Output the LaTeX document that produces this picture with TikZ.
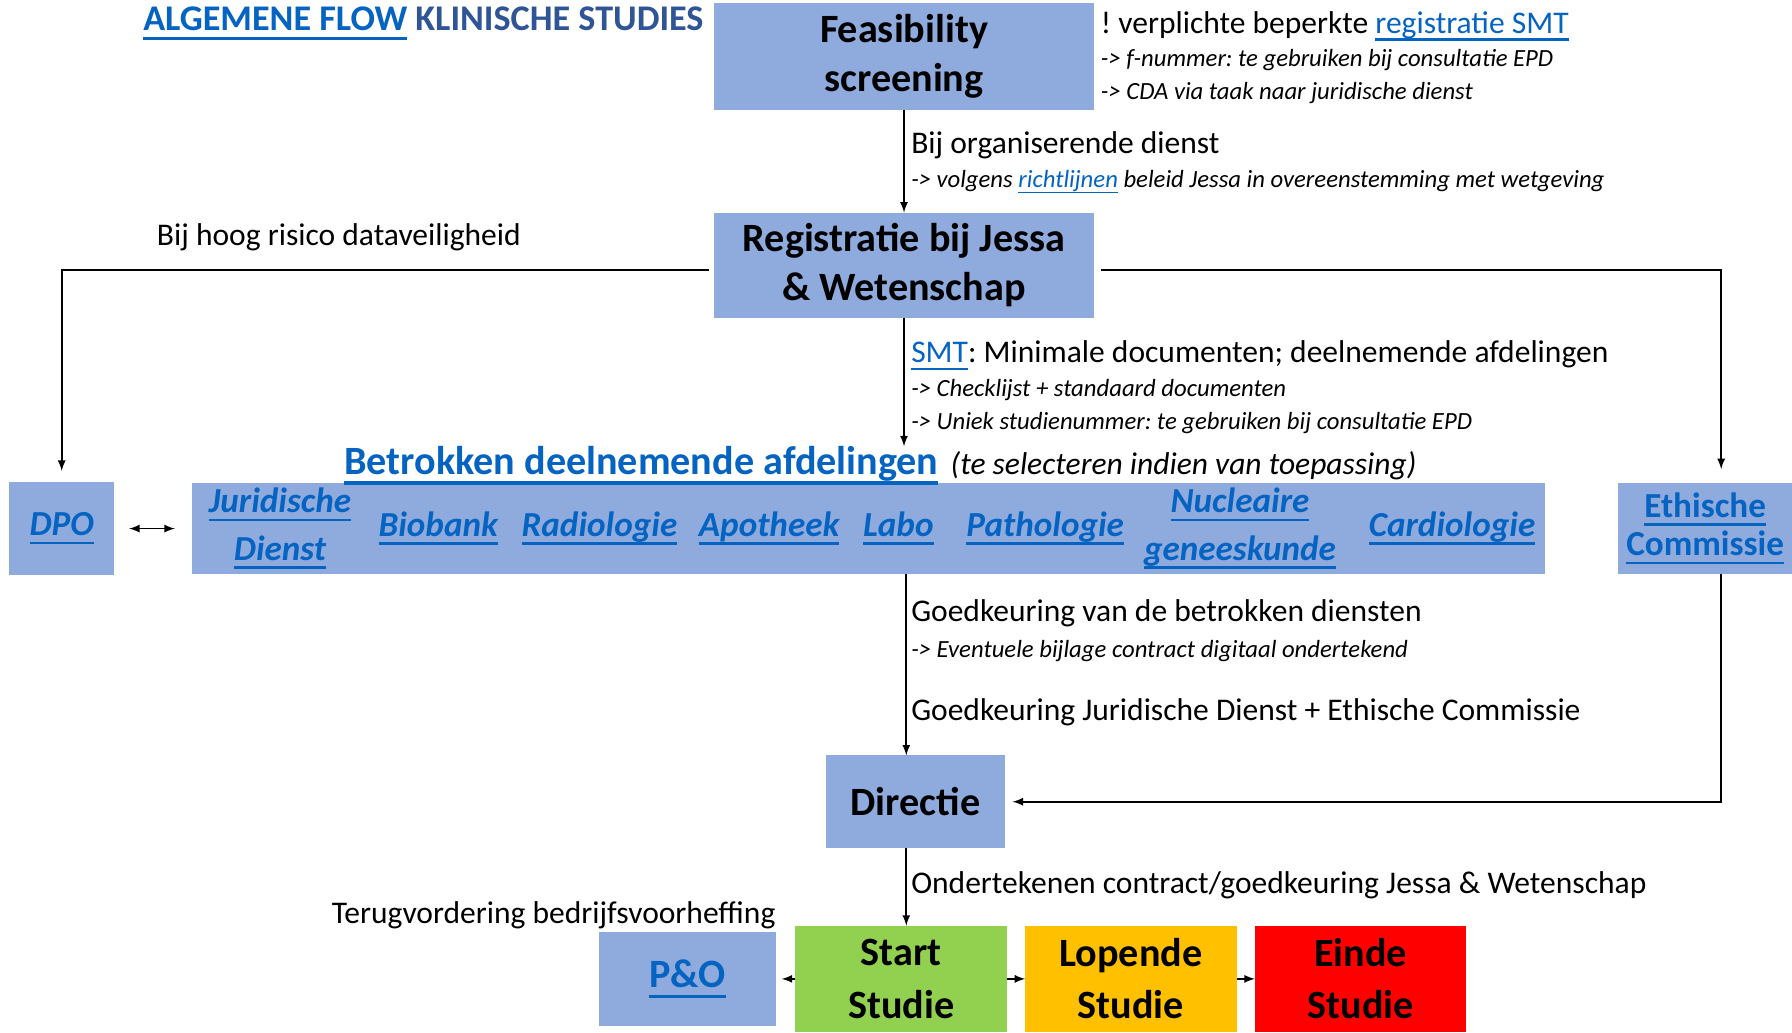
\documentclass[tikz,border=0pt]{standalone}
\usepackage{fontspec}
\setmainfont{Carlito}
\usetikzlibrary{positioning,calc}
\definecolor{boxblue}{HTML}{8FAADC}
\definecolor{linkblue}{HTML}{0563C1}
\definecolor{headblue}{HTML}{2F5597}
\definecolor{startgreen}{HTML}{92D050}
\definecolor{lopendeorange}{HTML}{FFC000}
\definecolor{eindered}{HTML}{FF0000}
\newsavebox\lnkbox
\newcommand\lnk[1]{\sbox\lnkbox{#1}\rlap{\rule[-0.24em]{\wd\lnkbox}{0.075em}}\usebox\lnkbox}
\frenchspacing

\begin{document}
\begin{tikzpicture}[box/.style={rectangle, fill=boxblue, align=center, inner sep=0pt, outer sep=0pt, font=\fontsize{20}{24.4}\selectfont\bfseries},
dept/.style={inner sep=0pt, align=center, text=linkblue, font=\fontsize{17.5}{23.8}\selectfont\bfseries\itshape},
note/.style={inner sep=0pt, font=\fontsize{15.7}{18.8}\selectfont},
subnote/.style={inner sep=0pt, font=\fontsize{12.3}{14.8}\selectfont\itshape},
flow/.style={-latex, line width=0.8pt}]

\useasboundingbox (0,0) rectangle (31.36,-18.06);

% BOXES

\node[box, minimum width=6.64cm, minimum height=1.86cm] (feas) at (15.82,-0.99) {Feasibility\\screening};

\node[box, minimum width=6.66cm, minimum height=1.84cm, below=1.8cm of feas] (reg) {Registratie bij Jessa\\\& Wetenschap};

\node[box, dept, minimum width=1.84cm, minimum height=1.62cm] (dpo) at (1.08,-9.25) {\lnk{DPO}};

\node[box, minimum width=23.68cm, minimum height=1.6cm, right=1.36cm of dpo] (depts) {};

\node[box, dept, font=\fontsize{17.5}{19}\selectfont\bfseries, minimum width=3.04cm, minimum height=1.6cm, right=1.28cm of depts] (ethic) {\lnk{Ethische}\\\lnk{Commissie}};

\node[dept] (juridisch) at ([xshift=1.54cm]depts.west) {\lnk{Juridische}\\\lnk{Dienst}};
\node[dept, anchor=base] (biobank) at ([xshift=4.31cm, yshift=-0.14cm]depts.west) {\lnk{Biobank}};
\node[dept, anchor=base] (radiologie) at ([xshift=7.13cm, yshift=-0.14cm]depts.west) {\lnk{Radiologie}};
\node[dept, anchor=base] (apotheek) at ([xshift=10.10cm, yshift=-0.14cm]depts.west) {\lnk{Apotheek}};
\node[dept, anchor=base] (labo) at ([xshift=12.36cm, yshift=-0.14cm]depts.west) {\lnk{Labo}};
\node[dept, anchor=base] (pathologie) at ([xshift=14.93cm, yshift=-0.14cm]depts.west) {\lnk{Pathologie}};
\node[dept] (nucleair) at ([xshift=18.34cm]depts.west) {\lnk{Nucleaire}\\\lnk{geneeskunde}};
\node[dept, anchor=base] (cardiologie) at ([xshift=22.05cm, yshift=-0.14cm]depts.west) {\lnk{Cardiologie}};

\node[box, minimum width=3.12cm, minimum height=1.62cm] (dir) at (16.02,-14.03) {Directie};

\node[box, fill=startgreen, minimum width=3.7cm, minimum height=1.86cm, font=\fontsize{20}{26}\selectfont\bfseries] (start) at (15.77,-17.13) {Start\\Studie};

\node[box, fill=lopendeorange, minimum width=3.7cm, minimum height=1.86cm, font=\fontsize{20}{26}\selectfont\bfseries, right=0.32cm of start] (lopende) {Lopende\\Studie};

\node[box, fill=eindered, minimum width=3.7cm, minimum height=1.86cm, font=\fontsize{20}{26}\selectfont\bfseries, right=0.32cm of lopende] (einde) {Einde\\Studie};

\node[box, text=linkblue, minimum width=3.1cm, minimum height=1.64cm, left=0.34cm of start] (pno) {\lnk{P\&O}};

% LABELS

\node[inner sep=0pt, anchor=base west, font=\fontsize{18}{22}\selectfont\bfseries] (title) at (2.5,-0.54) {\textcolor{linkblue}{\lnk{ALGEMENE FLOW}} \textcolor{headblue}{KLINISCHE STUDIES}};

\node[note, anchor=base west] (smtreg) at ([xshift=0.12cm, yshift=-0.52cm]feas.north east) {! verplichte beperkte \textcolor{linkblue}{\lnk{registratie SMT}}};
\node[subnote, below=0.58cm of smtreg.base west, anchor=base west] (fnummer) {-> f-nummer: te gebruiken bij consultatie EPD};
\node[subnote, below=0.58cm of fnummer.base west, anchor=base west] (cda) {-> CDA via taak naar juridische dienst};

\node[note, anchor=base west] (orgdienst) at ([xshift=0.12cm, yshift=-0.76cm]feas.south) {Bij organiserende dienst};
\node[subnote, below=0.6cm of orgdienst.base west, anchor=base west] (richtlijn) {-> volgens \textcolor{linkblue}{\lnk{richtlijnen}} beleid Jessa in overeenstemming met wetgeving};

\node[note, anchor=base west] (risico) at (2.74,-4.3) {Bij hoog risico dataveiligheid};

\node[note, anchor=base west] (smt) at ([xshift=0.12cm, yshift=-0.78cm]reg.south) {\textcolor{linkblue}{\lnk{SMT}}: Minimale documenten; deelnemende afdelingen};
\node[subnote, below=0.6cm of smt.base west, anchor=base west] (checklijst) {-> Checklijst + standaard documenten};
\node[subnote, below=0.58cm of checklijst.base west, anchor=base west] (uniek) {-> Uniek studienummer: te gebruiken bij consultatie EPD};

\node[inner sep=0pt, anchor=base west, text=linkblue, font=\fontsize{20}{24}\selectfont\bfseries] (betrokken) at ([xshift=2.66cm, yshift=0.14cm]depts.north west) {\lnk{Betrokken deelnemende afdelingen}};
\node[note, font=\fontsize{15.7}{18.8}\selectfont\itshape, right=0.2cm of betrokken.base east, anchor=base west] (selecteren) {(te selecteren indien van toepassing)};

\node[note, anchor=base west] (goedkeur) at (15.94,-10.88) {Goedkeuring van de betrokken diensten};
\node[subnote, below=0.62cm of goedkeur.base west, anchor=base west] (bijlage) {-> Eventuele bijlage contract digitaal ondertekend};
\node[note, anchor=base west] (goedjur) at (15.94,-12.6) {Goedkeuring Juridische Dienst + Ethische Commissie};

\node[note, anchor=base west] (onderteken) at (15.94,-15.64) {Ondertekenen contract/goedkeuring Jessa \& Wetenschap};
\node[note, anchor=base west] (terug) at (5.8,-16.16) {Terugvordering bedrijfsvoorheffing};

% CONNECTORS

\coordinate (dirin) at ([xshift=-0.16cm]dir.north);

\draw[flow] (feas.south) -- (reg.north);
\draw[flow] (reg.south) -- (reg.south |- betrokken.north);

\draw[flow] ([xshift=-0.08cm, yshift=-0.08cm]reg.west) -| ([yshift=0.2cm]dpo.north);
\draw[flow] ([xshift=0.12cm, yshift=-0.08cm]reg.east) -| ([xshift=0.28cm, yshift=0.24cm]ethic.north);

\draw[latex-latex, line width=0.8pt, shorten <=0.26cm, shorten >=0.3cm] (dpo.east) -- (depts.west);

\draw[flow] (depts.south -| dirin) -- (dirin);
\draw[flow] ([xshift=0.28cm]ethic.south) |- ([xshift=0.14cm]dir.east);

\draw[flow] (dirin |- dir.south) -- (dirin |- start.north);

\draw[flow, shorten >=0.1cm] (start.west) -- (pno.east);
\draw[flow] (start.east) -- (lopende.west);
\draw[flow] (lopende.east) -- (einde.west);

\end{tikzpicture}
\end{document}
